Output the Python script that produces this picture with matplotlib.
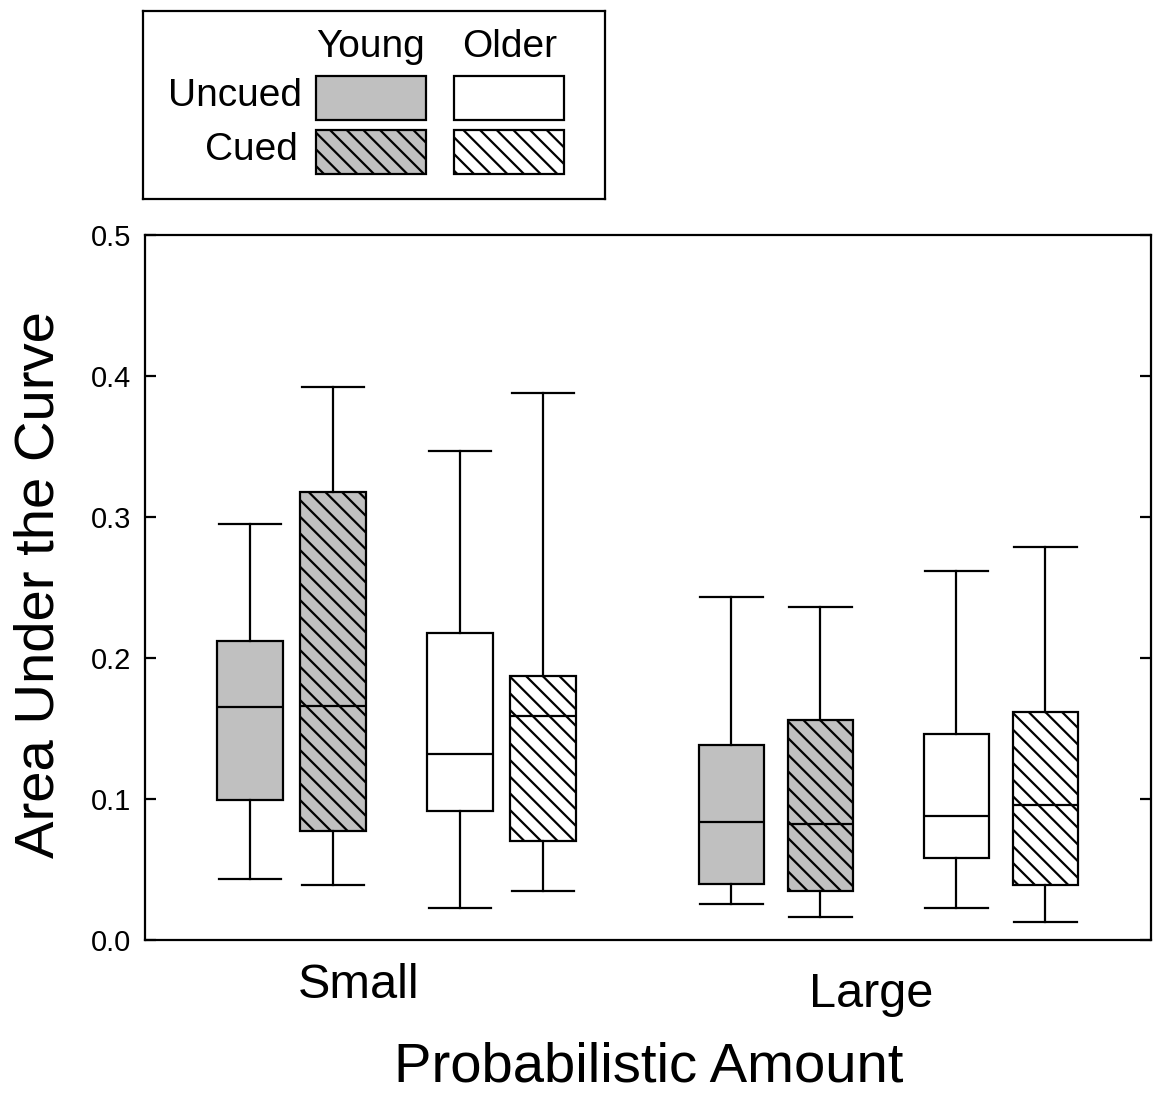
import numpy as np
import matplotlib.pyplot as plt
from matplotlib.patches import Rectangle

plt.rcParams['font.family'] = ['Liberation Sans', 'DejaVu Sans']
plt.rcParams['hatch.color'] = 'black'
plt.rcParams['hatch.linewidth'] = 1.6

# box statistics: Young Uncued, Young Cued, Older Uncued, Older Cued
groups = ['Small', 'Large']
conditions = ['Young Uncued', 'Young Cued', 'Older Uncued', 'Older Cued']
whis_hi = [[0.295, 0.392, 0.347, 0.388], [0.243, 0.236, 0.262, 0.279]]
q3 = [[0.212, 0.318, 0.218, 0.187], [0.138, 0.156, 0.146, 0.162]]
med = [[0.165, 0.166, 0.132, 0.159], [0.084, 0.082, 0.088, 0.096]]
q1 = [[0.099, 0.077, 0.0915, 0.070], [0.040, 0.035, 0.058, 0.039]]
whis_lo = [[0.043, 0.039, 0.023, 0.035], [0.0255, 0.016, 0.023, 0.013]]
yticks = [0.0, 0.1, 0.2, 0.3, 0.4, 0.5]

fills = ['#c0c0c0', '#c0c0c0', 'white', 'white']
hatches = [None, '\\\\', None, '\\\\']
group_pos = [2.5, 7.39]
group_spread = [0.97, 1.04]
offsets = [-1.5, -0.65, 0.65, 1.5]

fig = plt.figure(figsize=(11.62, 10.94), dpi=100)
ax = fig.add_axes([145 / 1162, 1 - 940 / 1094, 1006 / 1162, 705 / 1094])

stats, pos, fc, hc = [], [], [], []
for g in range(len(groups)):
    for c in range(len(conditions)):
        stats.append(dict(med=med[g][c], q1=q1[g][c], q3=q3[g][c],
                          whislo=whis_lo[g][c], whishi=whis_hi[g][c], fliers=[]))
        pos.append(group_pos[g] + group_spread[g] * offsets[c])
        fc.append(fills[c])
        hc.append(hatches[c])

bp = ax.bxp(stats, positions=pos, widths=0.65, capwidths=0.62, patch_artist=True,
            showfliers=False,
            boxprops=dict(linewidth=1.6, edgecolor='black'),
            medianprops=dict(color='black', linewidth=1.6),
            whiskerprops=dict(color='black', linewidth=1.6),
            capprops=dict(color='black', linewidth=1.6))
for box, f, h in zip(bp['boxes'], fc, hc):
    box.set_facecolor(f)
    if h:
        box.set_hatch(h)

ax.set_xlim(0, 10)
ax.set_ylim(0, 0.5)
ax.set_yticks(yticks)
ax.set_yticklabels(['%.1f' % t for t in yticks])
ax.set_xticks([])
ax.tick_params(axis='y', direction='in', right=True, length=8, width=1.6, pad=10,
               labelsize=21)
for s in ax.spines.values():
    s.set_linewidth(1.6)

ax.text(2.12, -0.064, 'Small', transform=ax.get_xaxis_transform(),
        ha='center', va='center', fontsize=35)
ax.text(7.22, -0.078, 'Large', transform=ax.get_xaxis_transform(),
        ha='center', va='center', fontsize=35)
fig.text(649 / 1162, 1 - 1068 / 1094, 'Probabilistic Amount', ha='center', va='center', fontsize=40.5)
fig.text(40 / 1162, 1 - 585 / 1094, 'Area Under the Curve', ha='center', va='center',
         rotation=90, fontsize=40.5)

# legend grid drawn in its own axes, laid out in pixels
lax = fig.add_axes([143 / 1162, 1 - 199 / 1094, 462 / 1162, 188 / 1094])
lax.set_xlim(143, 605)
lax.set_ylim(199, 11)
lax.set_xticks([])
lax.set_yticks([])
for s in lax.spines.values():
    s.set_linewidth(1.6)
col_x = [316, 454]
row_y = [76, 130]
for r in range(2):
    for c in range(2):
        i = r + 2 * c
        lax.add_patch(Rectangle((col_x[c], row_y[r]), 110, 44, facecolor=fills[i],
                                edgecolor='black', linewidth=1.6, hatch=hatches[i]))
lax.text(371, 47, 'Young', ha='center', va='center', fontsize=28)
lax.text(510, 47, 'Older', ha='center', va='center', fontsize=28)
lax.text(302, 96, 'Uncued', ha='right', va='center', fontsize=28)
lax.text(298, 150, 'Cued', ha='right', va='center', fontsize=28)

fig.savefig('out.png', dpi=100)
